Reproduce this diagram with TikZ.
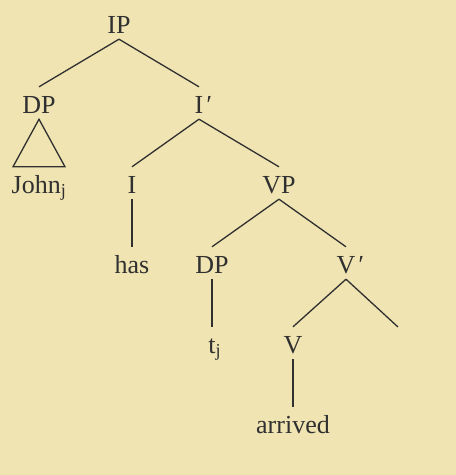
\documentclass[tikz,border=0pt]{standalone}
\usepackage{fontspec}
\setmainfont{Liberation Serif}
\usepackage{xcolor}
\definecolor{PaperYellow}{HTML}{F0E4B2}
\definecolor{InkGray}{HTML}{303030}
\usepackage{tikz}
\usetikzlibrary{calc}
\tikzset{
  % Label styles
  catnode/.style={anchor=base, text=InkGray, font=\fontsize{26}{30}\selectfont, text height=20pt, text depth=0pt, inner xsep=0pt, inner ysep=6pt},
  % Branch styles
  branch/.style={draw=InkGray, line width=1.3pt}
}

\begin{document}
\begin{tikzpicture}[x=1pt, y=-1pt]
  % Background
  \fill[PaperYellow] (0,0) rectangle (456,475);
  \useasboundingbox (0,0) rectangle (456,475);

  % Categories
  \node[catnode] (ip) at (119,33) {IP};
  \node[catnode] (dpsubj) at (39,113) {DP};
  \node[catnode] (ibar) at (199,113) {I\rlap{\kern1.5pt\textit{′}}};
  \node[catnode] (john) at (39,193) {John\textsubscript{j}};
  \node[catnode] (infl) at (132,193) {I};
  \node[catnode] (vp) at (279,193) {VP};
  \node[catnode] (has) at (132,273) {has};
  \node[catnode] (dptrace) at (212,273) {DP};
  \node[catnode] (vbar) at (346,273) {V\rlap{\kern1.5pt\textit{′}}};
  \node[catnode] (trace) at (212,353) {t\rlap{\textsubscript{j}}};
  \node[catnode] (verb) at (293,353) {V};
  \node[catnode] (arrived) at (293,433) {arrived};
  \coordinate (vbarright) at (398,327);

  % Branches
  \draw[branch] (ip.south) -- (dpsubj.north);
  \draw[branch] (ip.south) -- (ibar.north);
  \draw[branch] (dpsubj.south) -- ($(john.north)+(-26,0)$) -- ($(john.north)+(26,0)$) -- cycle;
  \draw[branch] (ibar.south) -- (infl.north);
  \draw[branch] (ibar.south) -- (vp.north);
  \draw[branch] (infl.south) -- (has.north);
  \draw[branch] (vp.south) -- (dptrace.north);
  \draw[branch] (vp.south) -- (vbar.north);
  \draw[branch] (dptrace.south) -- (trace.north);
  \draw[branch] (vbar.south) -- (verb.north);
  \draw[branch] (vbar.south) -- (vbarright);
  \draw[branch] (verb.south) -- (arrived.north);
\end{tikzpicture}
\end{document}
